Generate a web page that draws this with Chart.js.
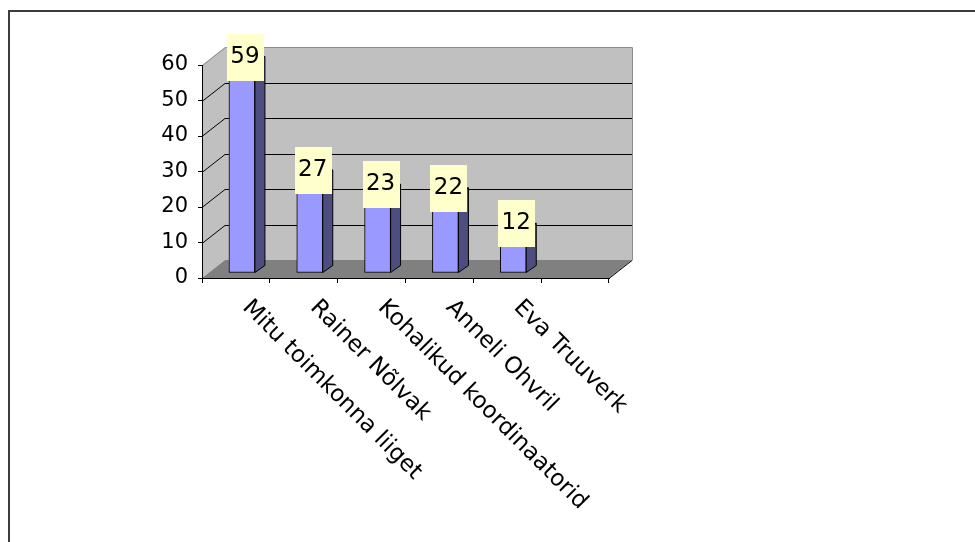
<!DOCTYPE html>
<html>
<head>
<meta charset="utf-8">
<script src="https://cdn.jsdelivr.net/npm/chart.js@4/dist/chart.umd.min.js"></script>
<style>
  html, body { margin: 0; padding: 0; background: #fff; }
  canvas { display: block; }
</style>
</head>
<body>
<canvas id="chart" width="975" height="542"></canvas>
<script>
const categories = ['Mitu toimkonna liiget', 'Rainer Nõlvak', 'Kohalikud koordinaatorid', 'Anneli Ohvril', 'Eva Truuverk'];
const values = [59, 27, 23, 22, 12];
const yMin = 0, yMax = 60, yStep = 10;

// 3D look: back wall offset from the front plane, bars sit a bit behind the front
const WALL = { dx: 23, dy: -18 };
const BAR_SHIFT = { dx: 6, dy: -5 };
const BAR_DEPTH = { dx: 10, dy: -7 };

const threeD = {
  id: 'threeD',
  beforeDraw(chart) {
    const { ctx } = chart;
    const x = chart.scales.x, y = chart.scales.y;
    const L = x.left, R = x.right, B = y.getPixelForValue(yMin), T = y.getPixelForValue(yMax);
    ctx.save();
    // outer frame
    ctx.fillStyle = '#3c3c3c';
    ctx.fillRect(8, 10, 967, 2);
    ctx.fillRect(8, 10, 2, 532);
    // back wall
    ctx.fillStyle = '#c0c0c0';
    ctx.fillRect(L + WALL.dx, T + WALL.dy, R - L, B - T);
    // side wall
    ctx.beginPath();
    ctx.moveTo(L, T); ctx.lineTo(L + WALL.dx, T + WALL.dy);
    ctx.lineTo(L + WALL.dx, B + WALL.dy); ctx.lineTo(L, B);
    ctx.closePath(); ctx.fill();
    // floor
    ctx.fillStyle = '#808080';
    ctx.beginPath();
    ctx.moveTo(L, B); ctx.lineTo(R, B);
    ctx.lineTo(R + WALL.dx, B + WALL.dy); ctx.lineTo(L + WALL.dx, B + WALL.dy);
    ctx.closePath(); ctx.fill();
    // wall edges
    ctx.strokeStyle = '#8c8c8c'; ctx.lineWidth = 1;
    ctx.beginPath();
    ctx.moveTo(L + 0.5, T + 0.5); ctx.lineTo(L + WALL.dx + 0.5, T + WALL.dy + 0.5);
    ctx.lineTo(R + WALL.dx + 0.5, T + WALL.dy + 0.5);
    ctx.lineTo(R + WALL.dx + 0.5, B + WALL.dy + 0.5);
    ctx.stroke();
    // gridlines on back wall + diagonals on side wall
    ctx.strokeStyle = '#000';
    for (let v = yMin + yStep; v < yMax; v += yStep) {
      const py = Math.round(y.getPixelForValue(v)) + 0.5;
      ctx.beginPath();
      ctx.moveTo(L, py); ctx.lineTo(L + WALL.dx, py + WALL.dy);
      ctx.lineTo(R + WALL.dx, py + WALL.dy);
      ctx.stroke();
    }
    // floor right edge
    ctx.beginPath();
    ctx.moveTo(R, B + 0.5); ctx.lineTo(R + WALL.dx, B + WALL.dy + 0.5);
    ctx.stroke();
    ctx.restore();
  },
  beforeDatasetsDraw(chart) {
    chart.ctx.save();
    chart.ctx.translate(BAR_SHIFT.dx, BAR_SHIFT.dy);
  },
  afterDatasetsDraw(chart) {
    const { ctx } = chart;
    const bars = chart.getDatasetMeta(0).data;
    bars.forEach((bar) => {
      if (bar.skip || bar.y == null || isNaN(bar.y)) return;
      const r = bar.x + bar.width / 2, l = bar.x - bar.width / 2;
      ctx.lineWidth = 1; ctx.strokeStyle = '#000';
      // side
      ctx.fillStyle = '#4d4d80';
      ctx.beginPath();
      ctx.moveTo(r, bar.y); ctx.lineTo(r + BAR_DEPTH.dx, bar.y + BAR_DEPTH.dy);
      ctx.lineTo(r + BAR_DEPTH.dx, bar.base + BAR_DEPTH.dy); ctx.lineTo(r, bar.base);
      ctx.closePath(); ctx.fill(); ctx.stroke();
      // top
      ctx.fillStyle = '#7373bf';
      ctx.beginPath();
      ctx.moveTo(l, bar.y); ctx.lineTo(r, bar.y);
      ctx.lineTo(r + BAR_DEPTH.dx, bar.y + BAR_DEPTH.dy); ctx.lineTo(l + BAR_DEPTH.dx, bar.y + BAR_DEPTH.dy);
      ctx.closePath(); ctx.fill(); ctx.stroke();
    });
    // value labels
    ctx.font = '23px "DejaVu Sans"';
    ctx.textAlign = 'center'; ctx.textBaseline = 'middle';
    bars.forEach((bar, i) => {
      if (values[i] == null) return;
      const cx = bar.x + 3, cy = bar.y - 6;
      ctx.fillStyle = '#ffffcc';
      ctx.fillRect(Math.round(cx - 18), Math.round(cy - 24), 37, 47);
      ctx.fillStyle = '#000';
      ctx.fillText(String(values[i]), cx, cy - 1);
    });
    ctx.restore();
  },
  afterDraw(chart) {
    const { ctx } = chart;
    const x = chart.scales.x, y = chart.scales.y;
    const B = y.getPixelForValue(yMin);
    ctx.save();
    ctx.font = '23px "DejaVu Sans"';
    ctx.fillStyle = '#000';
    ctx.textAlign = 'left'; ctx.textBaseline = 'middle';
    categories.forEach((name, i) => {
      const px = x.getPixelForValue(i);
      ctx.save();
      ctx.translate(px + 10, B + 26);
      ctx.rotate(Math.PI / 4);
      ctx.fillText(name, 0, 0);
      ctx.restore();
    });
    ctx.restore();
  }
};

new Chart(document.getElementById('chart'), {
  type: 'bar',
  data: {
    labels: [...categories, ''],
    datasets: [{
      data: values,
      backgroundColor: '#9999ff',
      borderColor: '#000',
      borderWidth: 1,
      borderSkipped: false,
      barThickness: 26,
      clip: false
    }]
  },
  options: {
    responsive: false,
    devicePixelRatio: 1,
    animation: false,
    layout: { padding: { top: 65, right: 366, left: 0, bottom: 0 } },
    plugins: { legend: { display: false }, tooltip: { enabled: false } },
    scales: {
      x: {
        afterFit: (s) => { s.height = 264; },
        ticks: { display: false },
        grid: { drawOnChartArea: false, drawTicks: true, tickLength: 5, color: '#000', offset: true },
        border: { display: true, color: '#000', width: 1 }
      },
      y: {
        min: yMin, max: yMax,
        afterFit: (s) => { s.width = 202; },
        ticks: { stepSize: yStep, color: '#000', padding: 10, font: { family: 'DejaVu Sans', size: 21 } },
        grid: { drawOnChartArea: false, drawTicks: true, tickLength: 4, color: '#000' },
        border: { display: true, color: '#000', width: 1 }
      }
    }
  },
  plugins: [threeD]
});
</script>
</body>
</html>
